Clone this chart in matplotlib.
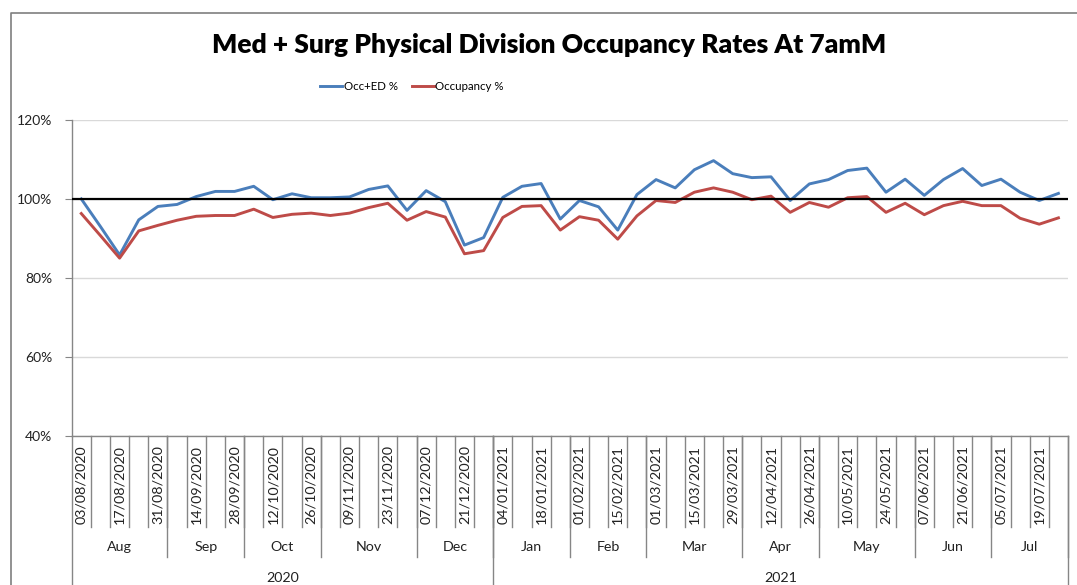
import matplotlib.pyplot as plt
from matplotlib.lines import Line2D

# weekly categories (week commencing)
weeks = [
    "03/08/2020", "10/08/2020", "17/08/2020", "24/08/2020", "31/08/2020",
    "07/09/2020", "14/09/2020", "21/09/2020", "28/09/2020",
    "05/10/2020", "12/10/2020", "19/10/2020", "26/10/2020",
    "02/11/2020", "09/11/2020", "16/11/2020", "23/11/2020", "30/11/2020",
    "07/12/2020", "14/12/2020", "21/12/2020", "28/12/2020",
    "04/01/2021", "11/01/2021", "18/01/2021", "25/01/2021",
    "01/02/2021", "08/02/2021", "15/02/2021", "22/02/2021",
    "01/03/2021", "08/03/2021", "15/03/2021", "22/03/2021", "29/03/2021",
    "05/04/2021", "12/04/2021", "19/04/2021", "26/04/2021",
    "03/05/2021", "10/05/2021", "17/05/2021", "24/05/2021", "31/05/2021",
    "07/06/2021", "14/06/2021", "21/06/2021", "28/06/2021",
    "05/07/2021", "12/07/2021", "19/07/2021", "26/07/2021",
]
months = ["Aug", "Sep", "Oct", "Nov", "Dec", "Jan", "Feb", "Mar", "Apr", "May", "Jun", "Jul"]
weeks_per_month = [5, 4, 4, 5, 4, 4, 4, 5, 4, 5, 4, 4]
years = ["2020", "2021"]
weeks_per_year = [22, 30]

occ_ed = [100.0, 93.0, 85.8, 94.7, 98.1, 98.6, 100.6, 101.9, 101.9, 103.2,
          99.8, 101.3, 100.3, 100.3, 100.5, 102.4, 103.3, 97.1, 102.1, 99.3,
          88.3, 90.2, 100.4, 103.2, 103.9, 94.9, 99.6, 98.0, 92.1, 101.1,
          104.9, 102.8, 107.4, 109.7, 106.4, 105.4, 105.6, 99.6, 103.8, 104.9,
          107.2, 107.8, 101.7, 105.0, 100.9, 104.9, 107.7, 103.4, 105.0, 101.7,
          99.6, 101.4]
occupancy = [96.3, 90.7, 85.0, 91.9, 93.3, 94.6, 95.6, 95.8, 95.8, 97.4,
             95.3, 96.1, 96.4, 95.8, 96.4, 97.8, 98.9, 94.6, 96.8, 95.4,
             86.1, 86.9, 95.3, 98.1, 98.3, 92.1, 95.5, 94.6, 89.8, 95.7,
             99.6, 99.1, 101.7, 102.8, 101.7, 99.8, 100.7, 96.6, 99.1, 97.9,
             100.3, 100.6, 96.6, 98.9, 96.0, 98.3, 99.4, 98.3, 98.3, 95.1,
             93.6, 95.2]
target = 100

BLUE = "#4A7EBB"
RED = "#BE4B48"
GRID = "#D9D9D9"
AXIS = "#868686"
FONT = "Lato"

W, H = 1077, 585
fig = plt.figure(figsize=(W / 100, H / 100), dpi=100)
plt.rcParams["font.family"] = [FONT, "DejaVu Sans"]

# plot area in pixels
left_px, right_px, top_px, bottom_px = 71.7, 1068, 120, 435.7
ax = fig.add_axes([left_px / W, 1 - bottom_px / H,
                   (right_px - left_px) / W, (bottom_px - top_px) / H])


def ay(ypx):
    """pixel row (from top) -> axes fraction"""
    return (bottom_px - ypx) / (bottom_px - top_px)


x = list(range(len(weeks)))
ax.plot(x, occ_ed, color=BLUE, lw=2.1, label="Occ+ED %", solid_joinstyle="round")
ax.plot(x, occupancy, color=RED, lw=2.1, label="Occupancy %", solid_joinstyle="round")
ax.axhline(target, color="black", lw=1.6, zorder=3)

ax.set_xlim(-0.5, len(weeks) - 0.5)
ax.set_ylim(40, 120)
ax.set_yticks([40, 60, 80, 100, 120])
ax.set_yticklabels([f"{v}%" for v in [40, 60, 80, 100, 120]])
ax.grid(axis="y", color=GRID, lw=1)
ax.set_axisbelow(True)
ax.set_xticks([])
ax.tick_params(axis="y", length=5, color=AXIS, labelsize=10, pad=9, labelcolor="#222222")
for s in ["top", "right"]:
    ax.spines[s].set_visible(False)
for s in ["left", "bottom"]:
    ax.spines[s].set_color(AXIS)
    ax.spines[s].set_linewidth(1)

# multi-level category axis
tr = ax.get_xaxis_transform()
for k in range(1, len(weeks)):
    ax.plot([k - 0.5, k - 0.5], [0, ay(527)], transform=tr, color=AXIS, lw=1, clip_on=False)
for i, lab in enumerate(weeks):
    if i % 2 == 0:
        ax.text(i, ay(445), lab, transform=tr, rotation=90, ha="center", va="top",
                fontsize=10.3, color="#222222")

pos = 0
for m, n in zip(months, weeks_per_month):
    ax.text(pos + n / 2 - 0.5, ay(547), m, transform=tr, ha="center", va="center",
            fontsize=10.3, color="#222222")
    pos += n
    ax.plot([pos - 0.5, pos - 0.5], [0, ay(557)], transform=tr, color=AXIS, lw=1, clip_on=False)

pos = 0
ax.plot([-0.5, -0.5], [0, ay(H + 5)], transform=tr, color=AXIS, lw=1, clip_on=False)
for yv, n in zip(years, weeks_per_year):
    ax.text(pos + n / 2 - 0.5, ay(578), yv, transform=tr, ha="center", va="center",
            fontsize=10.3, color="#222222")
    pos += n
    ax.plot([pos - 0.5, pos - 0.5], [0, ay(H + 5)], transform=tr, color=AXIS, lw=1, clip_on=False)

# title and legend
fig.text(549 / W, 1 - 45 / H, "Med + Surg Physical Division Occupancy Rates At 7amM",
         ha="center", va="center", fontsize=19, fontweight="heavy", color="black")
ax.legend(loc="center", bbox_to_anchor=(412 / W, 1 - 87 / H), bbox_transform=fig.transFigure,
          ncol=2, frameon=False, fontsize=8.3, handlelength=1.9, handletextpad=0.15,
          columnspacing=1.2)

# chart border
fig.add_artist(Line2D([11 / W, 11 / W, 1.0], [0, 1 - 13 / H, 1 - 13 / H],
                      transform=fig.transFigure, color="#7F7F7F", lw=1.2))

fig.savefig("out.png", dpi=100)
